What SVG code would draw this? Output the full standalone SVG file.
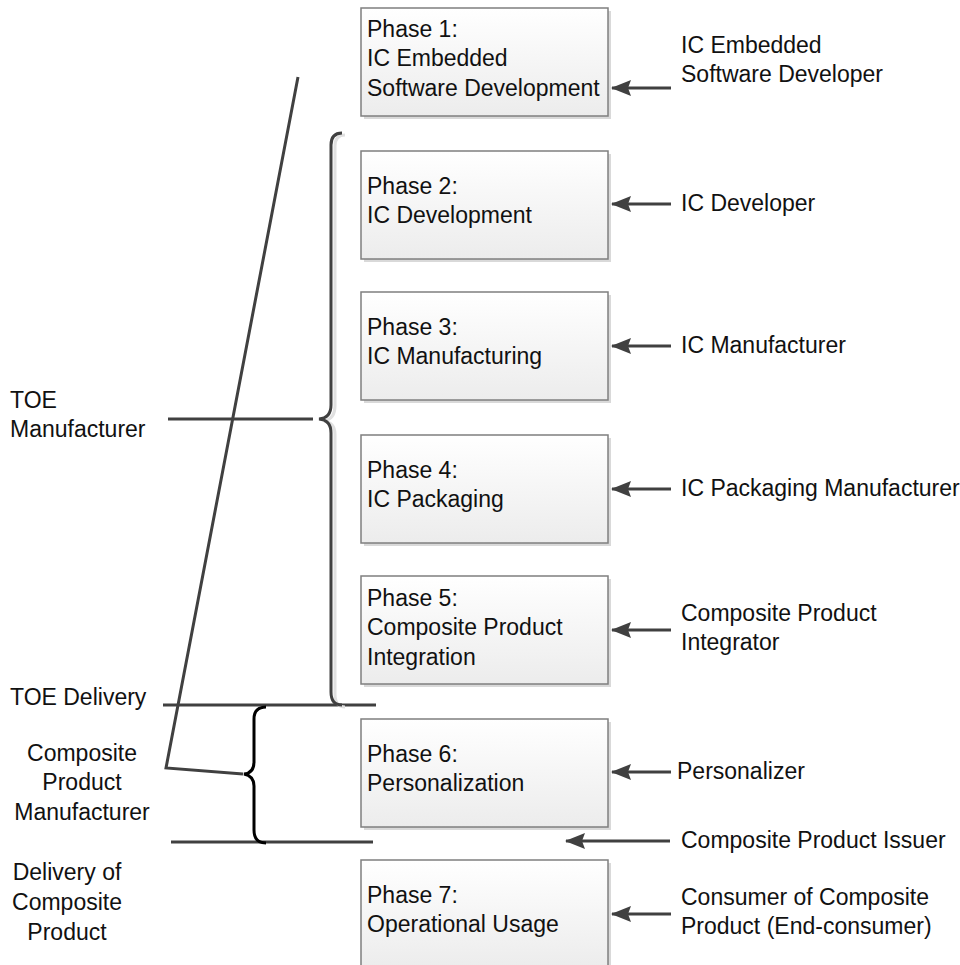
<svg xmlns="http://www.w3.org/2000/svg" width="960" height="965" viewBox="0 0 960 965">
<defs>
<linearGradient id="g" x1="0" y1="0" x2="0" y2="1"><stop offset="0" stop-color="#ffffff"/><stop offset="1" stop-color="#ececec"/></linearGradient>
<marker id="ah" markerWidth="22" markerHeight="18" refX="19" refY="9" orient="auto" markerUnits="userSpaceOnUse"><path d="M20,9 L0,1 L3,9 L0,17 Z" fill="#404040"/></marker>
</defs>
<style>
text{font-family:"Liberation Sans",Arial,sans-serif;font-size:23px;fill:#111}
.box{fill:url(#g);stroke:#7f7f7f;stroke-width:1.5}
.sh{fill:#d9d9d9}
.ln{stroke:#404040;stroke-width:3;fill:none}
.ar{stroke:#404040;stroke-width:3;fill:none;marker-end:url(#ah)}
.c{text-anchor:middle}
</style>
<g id="connectors">
<line class="ar" x1="671" y1="88" x2="612" y2="88"/>
<line class="ar" x1="671" y1="204" x2="612" y2="204"/>
<line class="ar" x1="671" y1="346" x2="612" y2="346"/>
<line class="ar" x1="671" y1="489" x2="612" y2="489"/>
<line class="ar" x1="671" y1="630" x2="612" y2="630"/>
<line class="ar" x1="671" y1="772" x2="612" y2="772"/>
<line class="ar" x1="670" y1="841" x2="566" y2="841"/>
<line class="ar" x1="671" y1="914" x2="612" y2="914"/>
<polyline class="ln" points="298,77 166,768 243,774"/>
<line class="ln" x1="168" y1="419" x2="313" y2="419"/>
<line class="ln" x1="163" y1="705" x2="376" y2="705"/>
<line class="ln" x1="171" y1="842" x2="373" y2="842"/>
<path d="M345,135 Q335,135 335,146 L335,406 Q335,419 324,421 Q335,423 335,434 L335,694 Q335,707 345,707" fill="none" stroke="#e0e0e0" stroke-width="3"/>
<path d="M342,133 Q331,133 331,145 L331,405 Q331,418 319,419 Q331,420 331,433 L331,692 Q331,705 342,705" class="ln"/>
<path d="M266,707 Q254,707 254,719 L254,762 Q254,773 244,774 Q254,776 254,786 L254,830 Q254,843 266,843" fill="none" stroke="#000" stroke-width="3"/>
</g>
<g id="phase1"><rect class="sh" x="364" y="11" width="247" height="108"/><rect class="box" x="361" y="8" width="247" height="108"/><text x="367" y="37">Phase 1:</text><text x="367" y="66">IC Embedded</text><text x="367" y="96">Software Development</text></g>
<g id="phase2"><rect class="sh" x="364" y="154" width="247" height="108"/><rect class="box" x="361" y="151" width="247" height="108"/><text x="367" y="194">Phase 2:</text><text x="367" y="223">IC Development</text></g>
<g id="phase3"><rect class="sh" x="364" y="295" width="247" height="108"/><rect class="box" x="361" y="292" width="247" height="108"/><text x="367" y="335">Phase 3:</text><text x="367" y="364">IC Manufacturing</text></g>
<g id="phase4"><rect class="sh" x="364" y="438" width="247" height="108"/><rect class="box" x="361" y="435" width="247" height="108"/><text x="367" y="478">Phase 4:</text><text x="367" y="507">IC Packaging</text></g>
<g id="phase5"><rect class="sh" x="364" y="579" width="247" height="108"/><rect class="box" x="361" y="576" width="247" height="108"/><text x="367" y="606">Phase 5:</text><text x="367" y="635">Composite Product</text><text x="367" y="665">Integration</text></g>
<g id="phase6"><rect class="sh" x="364" y="722" width="247" height="108"/><rect class="box" x="361" y="719" width="247" height="108"/><text x="367" y="762">Phase 6:</text><text x="367" y="791">Personalization</text></g>
<g id="phase7"><rect class="sh" x="364" y="863" width="247" height="108"/><rect class="box" x="361" y="860" width="247" height="108"/><text x="367" y="903">Phase 7:</text><text x="367" y="932">Operational Usage</text></g>
<g id="actors">
<text x="681" y="53">IC Embedded</text><text x="681" y="82">Software Developer</text>
<text x="681" y="211">IC Developer</text>
<text x="681" y="353">IC Manufacturer</text>
<text x="681" y="496">IC Packaging Manufacturer</text>
<text x="681" y="621">Composite Product</text><text x="681" y="650">Integrator</text>
<text x="677" y="779">Personalizer</text>
<text x="681" y="848">Composite Product Issuer</text>
<text x="681" y="905">Consumer of Composite</text><text x="681" y="934">Product (End-consumer)</text>
</g>
<g id="roles">
<text x="10" y="408">TOE</text><text x="10" y="437">Manufacturer</text>
<text x="10" y="705">TOE Delivery</text>
<text class="c" x="82" y="761">Composite</text><text class="c" x="82" y="790">Product</text><text class="c" x="82" y="820">Manufacturer</text>
<text class="c" x="67" y="880">Delivery of</text><text class="c" x="67" y="910">Composite</text><text class="c" x="67" y="940">Product</text>
</g>
</svg>
